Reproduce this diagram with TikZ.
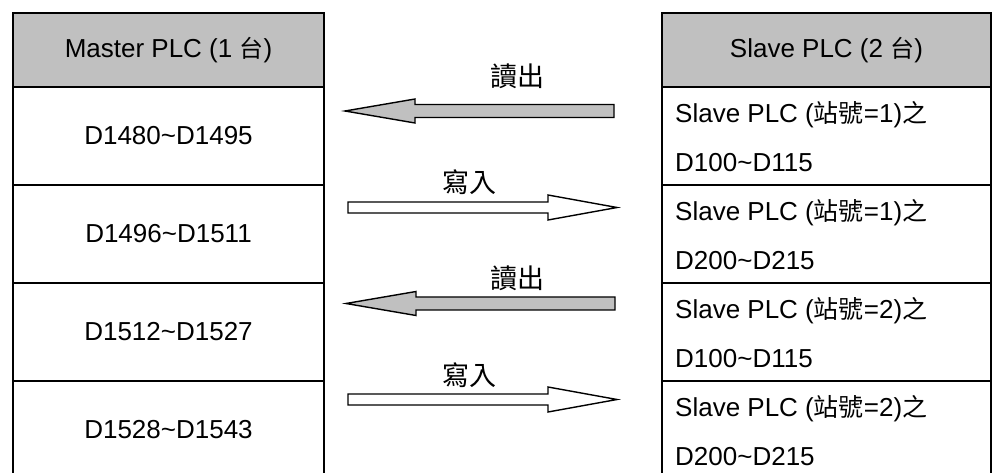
\documentclass[tikz,border=0pt]{standalone}
\usepackage{fontspec}
\setmainfont{Liberation Sans}
\newfontfamily\cjk{Noto Sans CJK TC}
\definecolor{hdrgray}{HTML}{C0C0C0}
\definecolor{arrgray}{HTML}{C0C0C0}
\tikzset{
  cell/.style={draw=black, line width=2pt, inner sep=0pt, outer sep=0pt},
  lcell/.style={cell, minimum width=311pt, minimum height=98pt, font=\fontsize{26}{30}\selectfont},
  rcell/.style={cell, minimum width=329pt, minimum height=98pt},
  hdr/.style={cell, fill=hdrgray, minimum height=74pt, font=\fontsize{26}{30}\selectfont},
  rtext/.style={anchor=west, inner sep=0pt, font=\fontsize{26}{30}\selectfont},
  albl/.style={inner sep=0pt, font=\fontsize{27}{30}\selectfont\cjk},
  readarr/.pic={\draw[line width=1.4pt, fill=arrgray] (269,-6.5) -- (70,-6.5) -- (70,-12) -- (0,0) -- (70,12) -- (70,6.5) -- (269,6.5) -- cycle;},
  writearr/.pic={\draw[line width=1.4pt, fill=white] (0,-5.5) -- (200,-5.5) -- (200,-12.5) -- (269,0) -- (200,12.5) -- (200,5.5) -- (0,5.5) -- cycle;}
}
\newcommand{\tai}{{\cjk\fontsize{24}{30}\selectfont 台}}
\newcommand{\zh}[1]{{\cjk\fontsize{25}{30}\selectfont #1}}
\begin{document}
\begin{tikzpicture}[x=1pt,y=-1pt]
\useasboundingbox (0,0) rectangle (997,473);
\begin{scope}
\clip (0,0) rectangle (997,473);
% left table
\node[hdr, minimum width=311pt] (mh) at (168.5,50) {Master PLC (1 \tai)};
\node[lcell] (m1) at (168.5,136) {D1480\char`~D1495};
\node[lcell] (m2) at (168.5,234) {D1496\char`~D1511};
\node[lcell] (m3) at (168.5,332) {D1512\char`~D1527};
\node[lcell] (m4) at (168.5,430) {D1528\char`~D1543};
% right table
\node[hdr, minimum width=329pt] (sh) at (826.5,50) {Slave PLC (2 \tai)};
\node[rcell] (s1) at (826.5,136) {};
\node[rcell] (s2) at (826.5,234) {};
\node[rcell] (s3) at (826.5,332) {};
\node[rcell] (s4) at (826.5,430) {};
\end{scope}
\node[rtext] (s1a) at (675,115) {Slave PLC (\zh{站號}=1)\zh{之}};
\node[rtext] (s1b) at (675,163) {D100\char`~D115};
\node[rtext] (s2a) at (675,213) {Slave PLC (\zh{站號}=1)\zh{之}};
\node[rtext] (s2b) at (675,261) {D200\char`~D215};
\node[rtext] (s3a) at (675,311) {Slave PLC (\zh{站號}=2)\zh{之}};
\node[rtext] (s3b) at (675,359) {D100\char`~D115};
\node[rtext] (s4a) at (675,409) {Slave PLC (\zh{站號}=2)\zh{之}};
\node[rtext] (s4b) at (675,457) {D200\char`~D215};
% arrows
\pic at (345,111) {readarr};
\pic at (348,207.5) {writearr};
\pic at (346,303.5) {readarr};
\pic at (348,399.5) {writearr};
\node[albl] (r1) at (517,76) {讀出};
\node[albl] (w1) at (469,182) {寫入};
\node[albl] (r2) at (517,278) {讀出};
\node[albl] (w2) at (469,375) {寫入};
\end{tikzpicture}
\end{document}
